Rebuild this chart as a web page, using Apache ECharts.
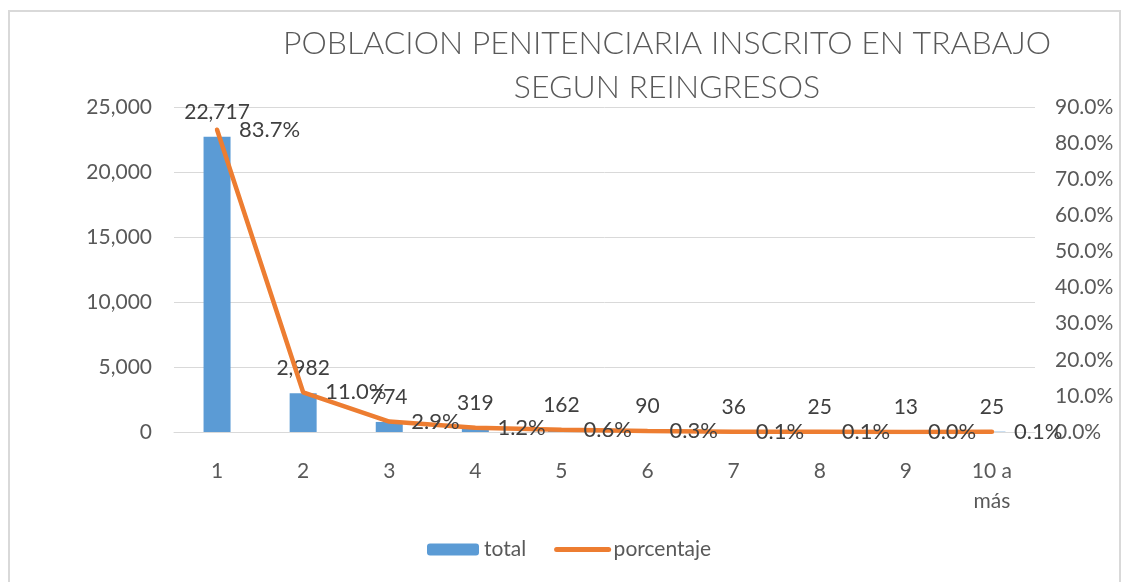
<!DOCTYPE html>
<html>
<head>
<meta charset="utf-8">
<script src="https://cdn.jsdelivr.net/npm/echarts@6/dist/echarts.min.js"></script>
<style>
  body { margin: 0; background: #fff; }
  #chart { width: 1121px; height: 582px; }
  #frame { position: absolute; left: 8px; top: 10px; width: 1109px; height: 600px;
           border: 2px solid #d9d9d9; pointer-events: none; }
</style>
</head>
<body>
<div id="chart"></div>
<div id="frame"></div>
<script>
const categories = ['1', '2', '3', '4', '5', '6', '7', '8', '9', '10 a más']
const totals = [22717, 2982, 774, 319, 162, 90, 36, 25, 13, 25]
const percents = [83.7, 11.0, 2.9, 1.2, 0.6, 0.3, 0.1, 0.1, 0.0, 0.1]

const textColor = '#595959'
const font = 'Lato'

const chart = echarts.init(document.getElementById('chart'))
chart.setOption({
  textStyle: { fontFamily: font },
  title: {
    text: 'POBLACION PENITENCIARIA INSCRITO EN TRABAJO\nSEGUN REINGRESOS',
    left: 662,
    top: 17,
    textAlign: 'center',
    textStyle: { fontFamily: font, fontSize: 32, fontWeight: 300, color: textColor, lineHeight: 44 }
  },
  legend: {
    left: 422,
    top: 534,
    itemWidth: 52,
    itemHeight: 12,
    itemGap: 28,
    textStyle: { fontFamily: font, fontSize: 21, color: textColor },
    data: [
      { name: 'total' },
      { name: 'porcentaje', itemStyle: { opacity: 0 },
        lineStyle: { color: '#ed7d31', width: 5, cap: 'round' } }
    ]
  },
  grid: { left: 174, right: 86, top: 107, bottom: 150 },
  xAxis: {
    type: 'category',
    data: categories,
    axisLine: { lineStyle: { color: '#d9d9d9', width: 1 } },
    axisTick: { show: false },
    axisLabel: {
      color: textColor, fontSize: 21, margin: 24, lineHeight: 30,
      formatter: v => v.replace('10 a ', '10 a\n')
    }
  },
  yAxis: [
    {
      type: 'value', min: 0, max: 25000, interval: 5000,
      axisLabel: { color: textColor, fontSize: 21, margin: 22,
        formatter: v => v.toLocaleString('en-US') },
      splitLine: { lineStyle: { color: '#d9d9d9', width: 1 } }
    },
    {
      type: 'value', min: 0, max: 90, interval: 10,
      axisLabel: { color: textColor, fontSize: 21, margin: 20,
        formatter: v => v.toFixed(1) + '%' },
      splitLine: { show: false }
    }
  ],
  series: [
    {
      name: 'total',
      type: 'bar',
      data: totals,
      barWidth: 27,
      itemStyle: { color: '#5b9bd5' },
      label: {
        show: true, position: 'top', distance: 14,
        color: '#404040', fontSize: 21,
        formatter: p => p.value.toLocaleString('en-US')
      }
    },
    {
      name: 'porcentaje',
      type: 'line',
      yAxisIndex: 1,
      data: percents,
      symbol: 'circle',
      symbolSize: 0.1,
      showSymbol: true,
      lineStyle: { color: '#ed7d31', width: 4.5, cap: 'round' },
      itemStyle: { color: '#ed7d31' },
      labelLayout: { hideOverlap: false },
      label: {
        show: true, position: 'right', distance: 22,
        color: '#404040', fontSize: 22,
        formatter: p => p.value.toFixed(1) + '%'
      }
    }
  ]
})
</script>
</body>
</html>
